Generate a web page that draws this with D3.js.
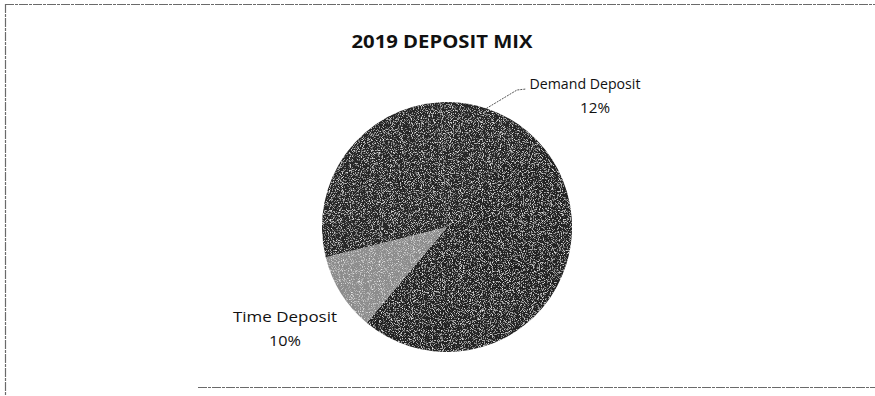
<!DOCTYPE html>
<html>
<head>
<meta charset="utf-8">
<script src="https://cdn.jsdelivr.net/npm/d3@7"></script>
<style>
  body { margin: 0; background: #fff; }
  text { font-family: "Open Sans", sans-serif; fill: #111; }
</style>
</head>
<body>
<svg id="canvas"></svg>
<script>
// deposit mix, clockwise from just left of 12 o'clock
const categories = ['Demand Deposit', 'Savings Deposit', 'Time Deposit', 'Other Deposits']
const shares = [12, 50, 10, 28]
const sliceColors = ['#252525', '#232323', '#8c8c8c', '#262626']
const titleText = '2019 DEPOSIT MIX'

const w = 875
const h = 396
const cx = 447
const cy = 227
const radius = 125

const svg = d3.select('#canvas').attr('width', w).attr('height', h)

// scanned-paper grain
const defs = svg.append('defs')
const grain = defs.append('filter').attr('id', 'grain')
grain.append('feTurbulence')
     .attr('type', 'fractalNoise')
     .attr('baseFrequency', 1.1)
     .attr('numOctaves', 2)
     .attr('seed', 4)
     .attr('result', 'n')
grain.append('feColorMatrix')
     .attr('in', 'n')
     .attr('type', 'matrix')
     .attr('values', '0 0 0 0 0.85  0 0 0 0 0.85  0 0 0 0 0.85  3.2 0 0 0 -1.65')
     .attr('result', 'specks')
grain.append('feComposite')
     .attr('in', 'specks').attr('in2', 'SourceGraphic')
     .attr('operator', 'in').attr('result', 'clipped')
const merge = grain.append('feMerge')
merge.append('feMergeNode').attr('in', 'SourceGraphic')
merge.append('feMergeNode').attr('in', 'clipped')

// frame (cut off on the right, as in the scan)
const frame = svg.append('g').attr('stroke', '#6a6a6a').attr('stroke-width', 1.2)
                 .attr('stroke-dasharray', '9 1 3 1')
frame.append('line').attr('x1', 5).attr('y1', 4.5).attr('x2', w).attr('y2', 4.5)
frame.append('line').attr('x1', 5.5).attr('y1', 4).attr('x2', 5.5).attr('y2', h)
frame.append('line').attr('x1', 198).attr('y1', 387.5).attr('x2', w).attr('y2', 387.5)

svg.append('text')
   .attr('x', 442).attr('y', 48)
   .attr('text-anchor', 'middle')
   .attr('font-size', 18).attr('font-weight', 700)
   .attr('textLength', 181).attr('lengthAdjust', 'spacingAndGlyphs')
   .text(titleText)

const offset = -3.2 * Math.PI / 180
const pie = d3.pie().sort(null).value(d => d)
              .startAngle(offset).endAngle(offset + 2 * Math.PI)
const arcs = pie(shares)
const arc = d3.arc().innerRadius(0).outerRadius(radius)

const g = svg.append('g').attr('transform', `translate(${cx},${cy})`)
const body = g.append('g').attr('filter', 'url(#grain)')
body.selectAll('path')
    .data(arcs)
    .enter()
    .append('path')
    .attr('d', arc)
    .attr('fill', (_, i) => sliceColors[i])

// labels inside the dark slices are lost in the scan
const inner = d3.arc().innerRadius(radius * 0.55).outerRadius(radius * 0.55)
arcs.forEach((a, i) => {
  if (i === 0 || i === 2) return
  const [x, y] = inner.centroid(a)
  const t = body.append('text').attr('text-anchor', 'middle').attr('font-size', 13)
                .style('fill', '#1a1a1a')
  t.append('tspan').attr('x', x).attr('y', y).text(categories[i])
  t.append('tspan').attr('x', x).attr('y', y + 18).text(shares[i] + '%')
})

// outside labels: Demand (top right, leader) and Time (bottom left)
const demand = arcs[0]
const dMid = (demand.startAngle + demand.endAngle) / 2
const tip = [Math.sin(dMid) * radius, -Math.cos(dMid) * radius]
const elbow = [517 - cx, 90 - cy]
g.append('path')
 .attr('d', d3.line()([tip, elbow, [526 - cx, 89 - cy]]))
 .attr('fill', 'none')
 .attr('stroke', '#555')
 .attr('stroke-width', 1)
 .attr('stroke-dasharray', '2 1')

const labelSpecs = [
  { i: 0, x: 585, y: 89, w1: 111, w2: 30 },
  { i: 2, x: 285, y: 322, w1: 104, w2: 32 }
]
labelSpecs.forEach(s => {
  svg.append('text').attr('x', s.x).attr('y', s.y)
     .attr('text-anchor', 'middle').attr('font-size', 14)
     .attr('textLength', s.w1).attr('lengthAdjust', 'spacingAndGlyphs')
     .text(categories[s.i])
  svg.append('text').attr('x', s.x + (s.i === 0 ? 10 : 0)).attr('y', s.y + 24)
     .attr('text-anchor', 'middle').attr('font-size', 14)
     .attr('textLength', s.w2).attr('lengthAdjust', 'spacingAndGlyphs')
     .text(shares[s.i] + '%')
})
</script>
</body>
</html>
